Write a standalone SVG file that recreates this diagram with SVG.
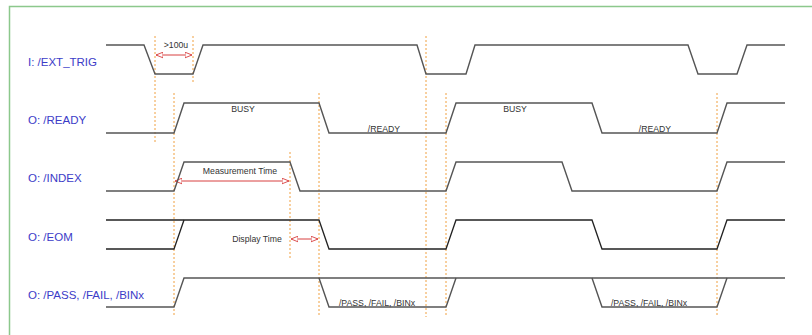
<svg xmlns="http://www.w3.org/2000/svg" width="812" height="335" viewBox="0 0 812 335">
<style>
.sig{fill:none;stroke:#555;stroke-width:1.4}
.sigd{fill:none;stroke:#222;stroke-width:1.3}
.dash{fill:none;stroke:#f0a040;stroke-width:1;stroke-dasharray:2,2}
.arr{fill:none;stroke:#d84040;stroke-width:1;marker-start:url(#ah);marker-end:url(#ah)}
.lbl{font-family:"Liberation Sans",Arial,sans-serif;font-size:11.5px;fill:#3c3cc8}
.note{font-family:"Liberation Sans",Arial,sans-serif;font-size:8.7px;fill:#333;text-anchor:middle}
</style>
<defs>
<marker id="ah" viewBox="0 0 10 10" refX="10" refY="5" markerWidth="7" markerHeight="7" markerUnits="userSpaceOnUse" orient="auto-start-reverse">
<path d="M0,1 L10,5 L0,9 Z" fill="#fff" stroke="#d84040" stroke-width="1.3"/>
</marker>
</defs>
<rect x="9.5" y="6.5" width="810" height="340" fill="#fff" stroke="#8cc88c" stroke-width="1.5"/>
<g id="connectors">
<line class="dash" x1="155" y1="36" x2="155" y2="143"/>
<line class="dash" x1="193" y1="36" x2="193" y2="84"/>
<line class="dash" x1="174" y1="93" x2="174" y2="317"/>
<line class="dash" x1="290" y1="152" x2="290" y2="259"/>
<line class="dash" x1="319" y1="93" x2="319" y2="317"/>
<line class="dash" x1="426" y1="36" x2="426" y2="317"/>
<line class="dash" x1="446" y1="93" x2="446" y2="317"/>
<line class="dash" x1="717" y1="93" x2="717" y2="317"/>
<line class="arr" x1="156" y1="55" x2="192" y2="55"/>
<line class="arr" x1="175" y1="181" x2="289" y2="181"/>
<line class="arr" x1="291" y1="239" x2="318" y2="239"/>
</g>
<g id="ext_trig">
<text class="lbl" x="28" y="66">I: /EXT_TRIG</text>
<path class="sig" d="M106,45 H144 L155,74 H193 L203,45 H417 L426,74 H466 L475,45 H688 L698,74 H737 L747,45 H785"/>
<text class="note" x="176" y="48">&gt;100u</text>
</g>
<g id="ready">
<text class="lbl" x="28" y="124">O: /READY</text>
<path class="sig" d="M106,133 H174 L184,103 H319 L329,133 H446 L456,103 H592 L602,133 H717 L727,103 H785"/>
<text class="note" x="243" y="112">BUSY</text>
<text class="note" x="515" y="112">BUSY</text>
<text class="note" x="384" y="131.5">/READY</text>
<text class="note" x="655" y="131.5">/READY</text>
</g>
<g id="index">
<text class="lbl" x="28" y="182">O: /INDEX</text>
<path class="sig" d="M106,191 H174 L184,162 H290 L300,191 H446 L456,162 H562 L572,191 H717 L727,162 H785"/>
<text class="note" x="240" y="174">Measurement Time</text>
</g>
<g id="eom">
<text class="lbl" x="28" y="241">O: /EOM</text>
<path class="sigd" d="M106,220 H319 L329,249 H446 L456,220 H592 L602,249 H717 L727,220 H785"/>
<path class="sigd" d="M106,249 H174 L184,220"/>
<text class="note" x="257" y="242">Display Time</text>
</g>
<g id="pass">
<text class="lbl" x="28" y="299">O: /PASS, /FAIL, /BINx</text>
<path class="sig" d="M106,307 H174 L184,278 H785"/>
<path class="sig" d="M319,278 L329,307 H446 L456,278"/>
<path class="sig" d="M592,278 L602,307 H717 L727,278"/>
<text class="note" x="377" y="306">/PASS, /FAIL, /BINx</text>
<text class="note" x="649" y="306">/PASS, /FAIL, /BINx</text>
</g>
</svg>
